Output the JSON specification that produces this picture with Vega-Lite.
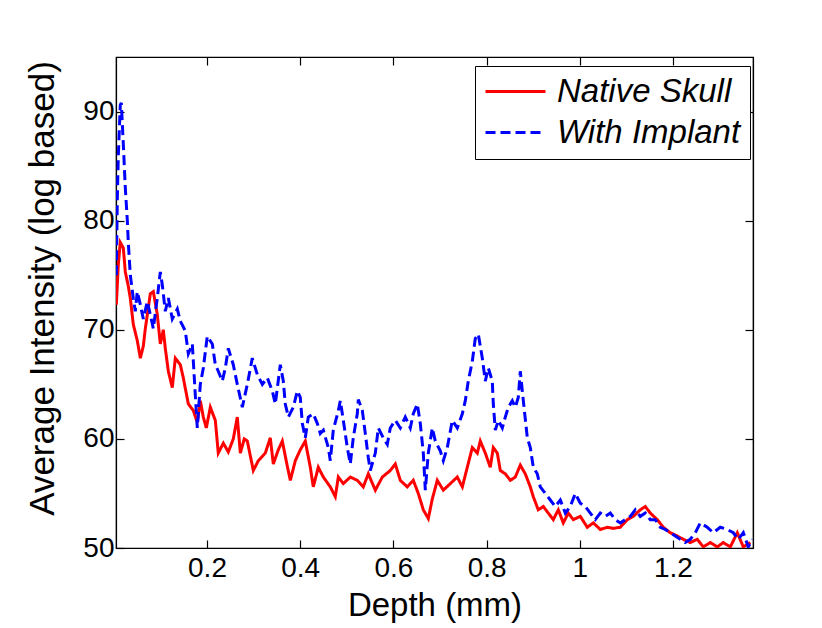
{
"$schema": "https://vega.github.io/schema/vega-lite/v6.json",
"width": 637, "height": 491,
"autosize": "none",
"padding": {"left": 116, "top": 57, "right": 69, "bottom": 80},
"background": "white",
"config": {
 "view": {"stroke": "black", "strokeWidth": 1.2},
 "axis": {"grid": false, "domainColor": "black", "domainWidth": 1.2, "tickColor": "black", "tickWidth": 1.2, "tickSize": -8,
  "labelFont": "Liberation Sans", "labelFontSize": 28, "labelColor": "black",
  "titleFont": "Liberation Sans", "titleFontWeight": "normal", "titleColor": "black"}
},
"data": {"values": [
{"series":"Native Skull","depth":0.0054,"value":72.3},{"series":"Native Skull","depth":0.0097,"value":76},{"series":"Native Skull","depth":0.0139,"value":78.0},{"series":"Native Skull","depth":0.0204,"value":77.5},{"series":"Native Skull","depth":0.0247,"value":75.3},{"series":"Native Skull","depth":0.0311,"value":74},{"series":"Native Skull","depth":0.0354,"value":72.9},{"series":"Native Skull","depth":0.0418,"value":70.5},{"series":"Native Skull","depth":0.0504,"value":69},{"series":"Native Skull","depth":0.0569,"value":67.4},{"series":"Native Skull","depth":0.0633,"value":68.5},{"series":"Native Skull","depth":0.0676,"value":70.1},{"series":"Native Skull","depth":0.0740,"value":72},{"series":"Native Skull","depth":0.0783,"value":73.3},{"series":"Native Skull","depth":0.0848,"value":73.5},{"series":"Native Skull","depth":0.0933,"value":71.4},{"series":"Native Skull","depth":0.0998,"value":68.7},{"series":"Native Skull","depth":0.1062,"value":70},{"series":"Native Skull","depth":0.1105,"value":68.3},{"series":"Native Skull","depth":0.1170,"value":66.2},{"series":"Native Skull","depth":0.1255,"value":64.7},{"series":"Native Skull","depth":0.1320,"value":67.4},{"series":"Native Skull","depth":0.1427,"value":66.8},{"series":"Native Skull","depth":0.1491,"value":65.6},{"series":"Native Skull","depth":0.1599,"value":63.2},{"series":"Native Skull","depth":0.1706,"value":62.6},{"series":"Native Skull","depth":0.1792,"value":61.5},{"series":"Native Skull","depth":0.1856,"value":63.5},{"series":"Native Skull","depth":0.1921,"value":62},{"series":"Native Skull","depth":0.1985,"value":61},{"series":"Native Skull","depth":0.2071,"value":62.9},{"series":"Native Skull","depth":0.2178,"value":61.7},{"series":"Native Skull","depth":0.2242,"value":58.7},{"series":"Native Skull","depth":0.2350,"value":59.6},{"series":"Native Skull","depth":0.2457,"value":58.8},{"series":"Native Skull","depth":0.2564,"value":60},{"series":"Native Skull","depth":0.2650,"value":62},{"series":"Native Skull","depth":0.2715,"value":58.7},{"series":"Native Skull","depth":0.2800,"value":60},{"series":"Native Skull","depth":0.2865,"value":59.8},{"series":"Native Skull","depth":0.2994,"value":57.1},{"series":"Native Skull","depth":0.3101,"value":58},{"series":"Native Skull","depth":0.3251,"value":58.7},{"series":"Native Skull","depth":0.3358,"value":60.1},{"series":"Native Skull","depth":0.3423,"value":57.7},{"series":"Native Skull","depth":0.3530,"value":59},{"series":"Native Skull","depth":0.3616,"value":59.8},{"series":"Native Skull","depth":0.3723,"value":57.5},{"series":"Native Skull","depth":0.3788,"value":56.2},{"series":"Native Skull","depth":0.3895,"value":58},{"series":"Native Skull","depth":0.4002,"value":59},{"series":"Native Skull","depth":0.4109,"value":59.8},{"series":"Native Skull","depth":0.4217,"value":57.4},{"series":"Native Skull","depth":0.4281,"value":55.6},{"series":"Native Skull","depth":0.4388,"value":57.4},{"series":"Native Skull","depth":0.4496,"value":56.5},{"series":"Native Skull","depth":0.4646,"value":55.6},{"series":"Native Skull","depth":0.4753,"value":54.7},{"series":"Native Skull","depth":0.4818,"value":56.5},{"series":"Native Skull","depth":0.4925,"value":55.9},{"series":"Native Skull","depth":0.5075,"value":56.5},{"series":"Native Skull","depth":0.5225,"value":56.2},{"series":"Native Skull","depth":0.5354,"value":55.6},{"series":"Native Skull","depth":0.5461,"value":56.8},{"series":"Native Skull","depth":0.5612,"value":55.3},{"series":"Native Skull","depth":0.5762,"value":56.5},{"series":"Native Skull","depth":0.5933,"value":57.1},{"series":"Native Skull","depth":0.6041,"value":57.7},{"series":"Native Skull","depth":0.6148,"value":56.2},{"series":"Native Skull","depth":0.6298,"value":55.6},{"series":"Native Skull","depth":0.6427,"value":56.2},{"series":"Native Skull","depth":0.6534,"value":55},{"series":"Native Skull","depth":0.6642,"value":53.5},{"series":"Native Skull","depth":0.6749,"value":52.7},{"series":"Native Skull","depth":0.6835,"value":54.5},{"series":"Native Skull","depth":0.6942,"value":56.2},{"series":"Native Skull","depth":0.7071,"value":55.3},{"series":"Native Skull","depth":0.7221,"value":55.9},{"series":"Native Skull","depth":0.7371,"value":56.5},{"series":"Native Skull","depth":0.7479,"value":55.6},{"series":"Native Skull","depth":0.7586,"value":57.4},{"series":"Native Skull","depth":0.7693,"value":59.2},{"series":"Native Skull","depth":0.7800,"value":58.7},{"series":"Native Skull","depth":0.7865,"value":59.8},{"series":"Native Skull","depth":0.7972,"value":58.7},{"series":"Native Skull","depth":0.8079,"value":57.4},{"series":"Native Skull","depth":0.8144,"value":59.2},{"series":"Native Skull","depth":0.8230,"value":58.7},{"series":"Native Skull","depth":0.8294,"value":57.1},{"series":"Native Skull","depth":0.8401,"value":56.8},{"series":"Native Skull","depth":0.8509,"value":56.2},{"series":"Native Skull","depth":0.8616,"value":56.5},{"series":"Native Skull","depth":0.8723,"value":57.6},{"series":"Native Skull","depth":0.8830,"value":56.8},{"series":"Native Skull","depth":0.8938,"value":55.6},{"series":"Native Skull","depth":0.9002,"value":54.7},{"series":"Native Skull","depth":0.9109,"value":53.5},{"series":"Native Skull","depth":0.9217,"value":53.8},{"series":"Native Skull","depth":0.9324,"value":53.2},{"series":"Native Skull","depth":0.9431,"value":52.6},{"series":"Native Skull","depth":0.9539,"value":53.5},{"series":"Native Skull","depth":0.9646,"value":52.3},{"series":"Native Skull","depth":0.9753,"value":53.2},{"series":"Native Skull","depth":0.9861,"value":52.6},{"series":"Native Skull","depth":1.0011,"value":52.9},{"series":"Native Skull","depth":1.0161,"value":51.9},{"series":"Native Skull","depth":1.0290,"value":52.3},{"series":"Native Skull","depth":1.0440,"value":51.7},{"series":"Native Skull","depth":1.0590,"value":51.9},{"series":"Native Skull","depth":1.0718,"value":51.8},{"series":"Native Skull","depth":1.0869,"value":51.9},{"series":"Native Skull","depth":1.1019,"value":52.6},{"series":"Native Skull","depth":1.1148,"value":52.9},{"series":"Native Skull","depth":1.1298,"value":53.5},{"series":"Native Skull","depth":1.1405,"value":53.8},{"series":"Native Skull","depth":1.1513,"value":53.2},{"series":"Native Skull","depth":1.1663,"value":52.6},{"series":"Native Skull","depth":1.1792,"value":51.9},{"series":"Native Skull","depth":1.1942,"value":51.4},{"series":"Native Skull","depth":1.2092,"value":51.1},{"series":"Native Skull","depth":1.2221,"value":50.8},{"series":"Native Skull","depth":1.2371,"value":50.5},{"series":"Native Skull","depth":1.2521,"value":50.8},{"series":"Native Skull","depth":1.2650,"value":50.1},{"series":"Native Skull","depth":1.2800,"value":50.5},{"series":"Native Skull","depth":1.2950,"value":50.1},{"series":"Native Skull","depth":1.3079,"value":50.5},{"series":"Native Skull","depth":1.3230,"value":50.1},{"series":"Native Skull","depth":1.3380,"value":51.4},{"series":"Native Skull","depth":1.3509,"value":50.1},{"series":"Native Skull","depth":1.3659,"value":50.5},
{"series":"With Implant","depth":0.0054,"value":75},{"series":"With Implant","depth":0.0075,"value":82},{"series":"With Implant","depth":0.0097,"value":86},{"series":"With Implant","depth":0.0139,"value":90.6},{"series":"With Implant","depth":0.0161,"value":90.8},{"series":"With Implant","depth":0.0204,"value":87},{"series":"With Implant","depth":0.0247,"value":83},{"series":"With Implant","depth":0.0290,"value":80},{"series":"With Implant","depth":0.0311,"value":78},{"series":"With Implant","depth":0.0354,"value":75},{"series":"With Implant","depth":0.0418,"value":72.9},{"series":"With Implant","depth":0.0461,"value":71.7},{"series":"With Implant","depth":0.0504,"value":73.5},{"series":"With Implant","depth":0.0569,"value":72.3},{"series":"With Implant","depth":0.0633,"value":71},{"series":"With Implant","depth":0.0719,"value":72.6},{"series":"With Implant","depth":0.0783,"value":71.4},{"series":"With Implant","depth":0.0848,"value":70.1},{"series":"With Implant","depth":0.0933,"value":72.9},{"series":"With Implant","depth":0.0998,"value":75.3},{"series":"With Implant","depth":0.1041,"value":74.1},{"series":"With Implant","depth":0.1105,"value":71.7},{"series":"With Implant","depth":0.1170,"value":72.9},{"series":"With Implant","depth":0.1255,"value":71},{"series":"With Implant","depth":0.1363,"value":71.9},{"series":"With Implant","depth":0.1427,"value":70.8},{"series":"With Implant","depth":0.1534,"value":69.9},{"series":"With Implant","depth":0.1599,"value":67.8},{"series":"With Implant","depth":0.1685,"value":68.7},{"series":"With Implant","depth":0.1749,"value":64},{"series":"With Implant","depth":0.1792,"value":61},{"series":"With Implant","depth":0.1856,"value":65},{"series":"With Implant","depth":0.1921,"value":66.5},{"series":"With Implant","depth":0.2006,"value":69.4},{"series":"With Implant","depth":0.2114,"value":68.7},{"series":"With Implant","depth":0.2178,"value":66.8},{"series":"With Implant","depth":0.2242,"value":66.2},{"series":"With Implant","depth":0.2328,"value":65.3},{"series":"With Implant","depth":0.2393,"value":66.5},{"series":"With Implant","depth":0.2457,"value":68.3},{"series":"With Implant","depth":0.2564,"value":66.8},{"series":"With Implant","depth":0.2650,"value":65},{"series":"With Implant","depth":0.2758,"value":62.9},{"series":"With Implant","depth":0.2865,"value":65},{"series":"With Implant","depth":0.2972,"value":67.4},{"series":"With Implant","depth":0.3079,"value":65.9},{"series":"With Implant","depth":0.3187,"value":65},{"series":"With Implant","depth":0.3294,"value":65.6},{"series":"With Implant","depth":0.3401,"value":64.4},{"series":"With Implant","depth":0.3466,"value":63.2},{"series":"With Implant","depth":0.3573,"value":66.8},{"series":"With Implant","depth":0.3637,"value":65.3},{"series":"With Implant","depth":0.3680,"value":63.2},{"series":"With Implant","depth":0.3745,"value":62},{"series":"With Implant","depth":0.3852,"value":62.9},{"series":"With Implant","depth":0.3938,"value":64.4},{"series":"With Implant","depth":0.4002,"value":63.8},{"series":"With Implant","depth":0.4046,"value":61.4},{"series":"With Implant","depth":0.4109,"value":60.1},{"series":"With Implant","depth":0.4174,"value":62},{"series":"With Implant","depth":0.4281,"value":62.3},{"series":"With Implant","depth":0.4368,"value":61.4},{"series":"With Implant","depth":0.4431,"value":60.5},{"series":"With Implant","depth":0.4496,"value":60.8},{"series":"With Implant","depth":0.4603,"value":59.2},{"series":"With Implant","depth":0.4646,"value":58},{"series":"With Implant","depth":0.4710,"value":60.8},{"series":"With Implant","depth":0.4818,"value":62.6},{"series":"With Implant","depth":0.4861,"value":63.5},{"series":"With Implant","depth":0.4925,"value":61.7},{"series":"With Implant","depth":0.5011,"value":59.2},{"series":"With Implant","depth":0.5075,"value":57.7},{"series":"With Implant","depth":0.5139,"value":60.1},{"series":"With Implant","depth":0.5225,"value":62.3},{"series":"With Implant","depth":0.5247,"value":63.6},{"series":"With Implant","depth":0.5333,"value":62.6},{"series":"With Implant","depth":0.5397,"value":60.5},{"series":"With Implant","depth":0.5461,"value":58.3},{"series":"With Implant","depth":0.5504,"value":57.1},{"series":"With Implant","depth":0.5612,"value":58.7},{"series":"With Implant","depth":0.5676,"value":61},{"series":"With Implant","depth":0.5783,"value":60.1},{"series":"With Implant","depth":0.5869,"value":59.5},{"series":"With Implant","depth":0.5933,"value":61},{"series":"With Implant","depth":0.6041,"value":61.7},{"series":"With Implant","depth":0.6148,"value":61},{"series":"With Implant","depth":0.6255,"value":62},{"series":"With Implant","depth":0.6363,"value":61},{"series":"With Implant","depth":0.6427,"value":62.3},{"series":"With Implant","depth":0.6513,"value":63.2},{"series":"With Implant","depth":0.6577,"value":61.4},{"series":"With Implant","depth":0.6642,"value":58.7},{"series":"With Implant","depth":0.6685,"value":55.3},{"series":"With Implant","depth":0.6749,"value":58.7},{"series":"With Implant","depth":0.6835,"value":61},{"series":"With Implant","depth":0.6899,"value":59.8},{"series":"With Implant","depth":0.7006,"value":58.9},{"series":"With Implant","depth":0.7071,"value":58},{"series":"With Implant","depth":0.7157,"value":59.2},{"series":"With Implant","depth":0.7264,"value":61.7},{"series":"With Implant","depth":0.7371,"value":61},{"series":"With Implant","depth":0.7479,"value":62.3},{"series":"With Implant","depth":0.7543,"value":63.5},{"series":"With Implant","depth":0.7607,"value":65.3},{"series":"With Implant","depth":0.7693,"value":67.1},{"series":"With Implant","depth":0.7757,"value":69.2},{"series":"With Implant","depth":0.7822,"value":69.6},{"series":"With Implant","depth":0.7908,"value":67.4},{"series":"With Implant","depth":0.7972,"value":65.3},{"series":"With Implant","depth":0.8036,"value":66.5},{"series":"With Implant","depth":0.8122,"value":65.3},{"series":"With Implant","depth":0.8144,"value":63.2},{"series":"With Implant","depth":0.8187,"value":60.8},{"series":"With Implant","depth":0.8251,"value":61.7},{"series":"With Implant","depth":0.8337,"value":61},{"series":"With Implant","depth":0.8401,"value":62},{"series":"With Implant","depth":0.8466,"value":62.9},{"series":"With Implant","depth":0.8552,"value":63.5},{"series":"With Implant","depth":0.8616,"value":62.9},{"series":"With Implant","depth":0.8680,"value":63.8},{"series":"With Implant","depth":0.8723,"value":66.2},{"series":"With Implant","depth":0.8788,"value":63.5},{"series":"With Implant","depth":0.8874,"value":60.1},{"series":"With Implant","depth":0.8938,"value":59.2},{"series":"With Implant","depth":0.9002,"value":57.4},{"series":"With Implant","depth":0.9088,"value":56.8},{"series":"With Implant","depth":0.9152,"value":55.6},{"series":"With Implant","depth":0.9260,"value":55},{"series":"With Implant","depth":0.9367,"value":54.4},{"series":"With Implant","depth":0.9474,"value":53.8},{"series":"With Implant","depth":0.9582,"value":54.4},{"series":"With Implant","depth":0.9689,"value":53.2},{"series":"With Implant","depth":0.9796,"value":53.8},{"series":"With Implant","depth":0.9903,"value":55},{"series":"With Implant","depth":1.0011,"value":54.1},{"series":"With Implant","depth":1.0118,"value":53.8},{"series":"With Implant","depth":1.0225,"value":53.2},{"series":"With Implant","depth":1.0333,"value":52.6},{"series":"With Implant","depth":1.0440,"value":53.2},{"series":"With Implant","depth":1.0547,"value":52.9},{"series":"With Implant","depth":1.0655,"value":53.2},{"series":"With Implant","depth":1.0762,"value":52.6},{"series":"With Implant","depth":1.0869,"value":52.3},{"series":"With Implant","depth":1.0976,"value":52.6},{"series":"With Implant","depth":1.1084,"value":52.9},{"series":"With Implant","depth":1.1191,"value":53.5},{"series":"With Implant","depth":1.1298,"value":52.9},{"series":"With Implant","depth":1.1405,"value":53.2},{"series":"With Implant","depth":1.1513,"value":52.6},{"series":"With Implant","depth":1.1620,"value":52.6},{"series":"With Implant","depth":1.1727,"value":51.9},{"series":"With Implant","depth":1.1835,"value":51.7},{"series":"With Implant","depth":1.1942,"value":51.4},{"series":"With Implant","depth":1.2049,"value":51.1},{"series":"With Implant","depth":1.2157,"value":50.8},{"series":"With Implant","depth":1.2264,"value":50.5},{"series":"With Implant","depth":1.2371,"value":50.8},{"series":"With Implant","depth":1.2479,"value":51.4},{"series":"With Implant","depth":1.2586,"value":52.3},{"series":"With Implant","depth":1.2736,"value":51.9},{"series":"With Implant","depth":1.2865,"value":51.4},{"series":"With Implant","depth":1.3015,"value":51.9},{"series":"With Implant","depth":1.3165,"value":51.7},{"series":"With Implant","depth":1.3294,"value":51.4},{"series":"With Implant","depth":1.3401,"value":50.8},{"series":"With Implant","depth":1.3509,"value":51.4},{"series":"With Implant","depth":1.3616,"value":50.1},{"series":"With Implant","depth":1.3702,"value":50.8}
]},
"layer": [
 {"mark": {"type": "line", "strokeWidth": 3, "clip": true},
  "encoding": {
   "x": {"field": "depth", "type": "quantitative", "scale": {"domain": [0.0047, 1.3717], "nice": false, "zero": false},
     "axis": {"title": "Depth (mm)", "titleFontSize": 33, "titlePadding": 7, "values": [0.2, 0.4, 0.6, 0.8, 1, 1.2], "format": "~g", "labelPadding": 14}},
   "y": {"field": "value", "type": "quantitative", "scale": {"domain": [50, 95], "nice": false, "zero": false},
     "axis": {"title": "Average Intensity (log based)", "titleFontSize": 35, "titleX": -56, "titleY": 231, "titleBaseline": "bottom", "values": [50, 60, 70, 80, 90], "labelPadding": 10}},
   "color": {"field": "series", "type": "nominal", "scale": {"domain": ["Native Skull", "With Implant"], "range": ["#ff0000", "#0000ff"]},
     "legend": {"orient": "none", "legendX": 359, "legendY": 9, "title": null, "strokeColor": "black", "fillColor": "white", "padding": 9, "symbolType": "M-1,0H3", "symbolSize": 900, "symbolStrokeWidth": 3, "labelFontSize": 33, "labelFont": "Liberation Sans", "labelFontStyle": "italic", "labelColor": "black", "rowPadding": 7, "labelOffset": 40, "labelLimit": 400}},
   "strokeDash": {"field": "series", "type": "nominal", "scale": {"domain": ["Native Skull", "With Implant"], "range": [[1, 0], [10, 5]]},
     "legend": {"orient": "none", "legendX": 359, "legendY": 9, "title": null, "strokeColor": "black", "fillColor": "white", "padding": 9, "symbolType": "M-1,0H3", "symbolSize": 900, "symbolStrokeWidth": 3, "labelFontSize": 33, "labelFont": "Liberation Sans", "labelFontStyle": "italic", "labelColor": "black", "rowPadding": 7, "labelOffset": 40, "labelLimit": 400}}
  }},
 {"mark": {"type": "line", "opacity": 0},
  "encoding": {
   "x": {"field": "depth", "type": "quantitative", "axis": {"orient": "top", "labels": false, "title": null, "values": [0.2, 0.4, 0.6, 0.8, 1, 1.2]}},
   "y": {"field": "value", "type": "quantitative", "axis": {"orient": "right", "labels": false, "title": null, "values": [50, 60, 70, 80, 90]}},
   "detail": {"field": "series"}
  }}
],
"resolve": {"axis": {"x": "independent", "y": "independent"}}
}
